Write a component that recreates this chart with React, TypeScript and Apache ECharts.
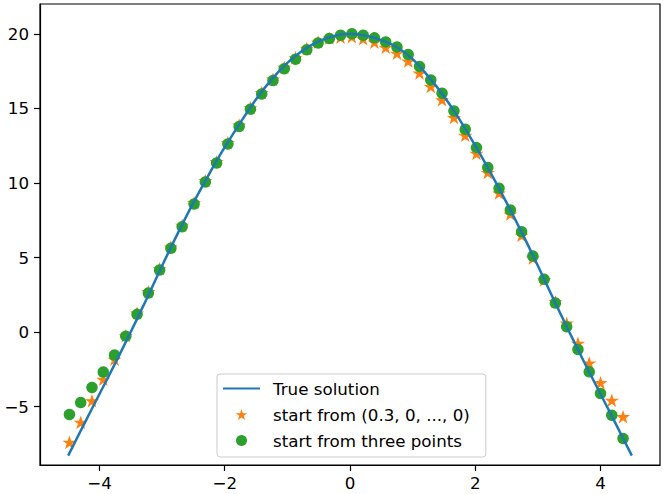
import React, { useEffect, useRef } from "react";
import * as echarts from "echarts";

const seriesNames = [
  "True solution",
  "start from (0.3, 0, ..., 0)",
  "start from three points",
];

const trueX = [
  -4.5, -4.25, -4.0, -3.75, -3.5, -3.25, -3.0, -2.75, -2.5, -2.25, -2.0, -1.75,
  -1.5, -1.25, -1.0, -0.75, -0.5, -0.25, 0, 0.25, 0.5, 0.75, 1.0, 1.25, 1.5,
  1.75, 2.0, 2.25, 2.5, 2.75, 3.0, 3.25, 3.5, 3.75, 4.0, 4.25, 4.5,
];
const trueY = [
  -8.28, -6.2, -4.15, -2.1, 0.02, 2.2, 4.45, 6.62, 8.68, 10.6, 12.4, 14.05,
  15.62, 16.95, 18.05, 18.9, 19.5, 19.85, 20.0, 19.88, 19.58, 19.1, 18.3,
  17.15, 15.82, 14.25, 12.5, 10.65, 8.68, 6.62, 4.45, 2.2, 0.02, -2.1, -4.15,
  -6.2, -8.28,
];

const pointX = [
  -4.48, -4.3, -4.12, -3.94, -3.76, -3.58, -3.4, -3.22, -3.04, -2.86, -2.68,
  -2.49, -2.31, -2.13, -1.95, -1.77, -1.59, -1.41, -1.23, -1.05, -0.87, -0.69,
  -0.51, -0.33, -0.15, 0.03, 0.21, 0.39, 0.57, 0.75, 0.93, 1.11, 1.29, 1.47,
  1.66, 1.84, 2.02, 2.2, 2.38, 2.56, 2.74, 2.92, 3.1, 3.28, 3.46, 3.64, 3.82,
  4.0, 4.18, 4.36,
];
const starY = [
  -7.4, -6.06, -4.61, -3.17, -1.83, -0.25, 1.27, 2.7, 4.24, 5.7, 7.15, 8.67,
  10.15, 11.42, 12.7, 13.87, 15.03, 16.05, 16.95, 17.74, 18.38, 19.01, 19.44,
  19.7, 19.76, 19.8, 19.66, 19.43, 19.08, 18.69, 18.16, 17.36, 16.46, 15.57,
  14.38, 13.18, 11.97, 10.69, 9.32, 7.91, 6.48, 4.95, 3.49, 2.03, 0.59, -0.76,
  -2.08, -3.4, -4.58, -5.68,
];
const circleY = [
  -5.52, -4.72, -3.71, -2.68, -1.54, -0.27, 1.19, 2.62, 4.16, 5.62, 7.07, 8.59,
  10.07, 11.34, 12.62, 13.79, 14.95, 15.97, 16.87, 17.66, 18.3, 18.93, 19.38,
  19.68, 19.91, 20.0, 19.91, 19.73, 19.46, 19.11, 18.61, 17.81, 16.91, 16.02,
  14.83, 13.6, 12.37, 11.04, 9.64, 8.19, 6.73, 5.1, 3.54, 1.95, 0.36, -1.16,
  -2.66, -4.11, -5.57, -7.13,
];

const xTicks = [-4, -2, 0, 2, 4];
const yTicks = [-5, 0, 5, 10, 15, 20];

const STAR =
  "path://M100,0 L122.45,69.1 L195.11,69.1 L136.33,111.8 L158.78,180.9 L100,138.2 L41.22,180.9 L63.67,111.8 L4.89,69.1 L77.55,69.1 Z";
const LINE_ICON = "path://M0,0 L40,0 L40,2.4 L0,2.4 Z";

const FONT = "DejaVu Sans";
const FS = 16.7;
const fmt = (v: number) => String(v).replace("-", "\u2212");

export default function App() {
  const ref = useRef<HTMLDivElement>(null);
  useEffect(() => {
    if (!ref.current) return;
    const chart = echarts.init(ref.current, null, { renderer: "svg" });
    const axisCommon = {
      type: "value" as const,
      splitLine: { show: false },
      axisLine: { show: true, onZero: false, lineStyle: { color: "#000", width: 1.2 } },
      axisTick: { show: true, length: 6, lineStyle: { color: "#000", width: 1.2 } },
      axisLabel: {
        color: "#000",
        fontSize: FS,
        fontFamily: FONT,
        formatter: fmt,
      },
    };
    chart.setOption({
      animation: false,
      backgroundColor: "#fff",
      grid: {
        left: 40,
        right: 5,
        top: 4,
        bottom: 29,
        show: true,
        borderColor: "#000",
        borderWidth: 1.2,
        containLabel: false,
      },
      xAxis: {
        ...axisCommon,
        min: -4.95,
        max: 4.95,
        axisTick: { ...axisCommon.axisTick, customValues: xTicks },
        axisLabel: { ...axisCommon.axisLabel, customValues: xTicks, margin: 9 },
      },
      yAxis: {
        ...axisCommon,
        min: -8.91,
        max: 22.0,
        axisTick: { ...axisCommon.axisTick, customValues: yTicks },
        axisLabel: { ...axisCommon.axisLabel, customValues: yTicks, margin: 11 },
      },
      legend: {
        show: true,
        orient: "vertical",
        left: 217,
        top: 374,
        padding: [5, 16, 7, 6],
        itemGap: 7,
        itemWidth: 37,
        itemHeight: 11,
        symbolKeepAspect: true,
        selectedMode: false,
        backgroundColor: "rgba(255,255,255,0.8)",
        borderColor: "#cccccc",
        borderWidth: 1,
        borderRadius: 3,
        textStyle: {
          fontSize: FS,
          fontFamily: FONT,
          color: "#000",
          lineHeight: 19,
          padding: [0, 0, 0, 8],
        },
        data: [
          { name: seriesNames[0], icon: LINE_ICON, itemStyle: { borderWidth: 0 } },
          { name: seriesNames[1], icon: STAR, itemStyle: { borderWidth: 0 } },
          { name: seriesNames[2], icon: "circle", itemStyle: { borderWidth: 0 } },
        ],
      },
      series: [
        {
          name: seriesNames[0],
          type: "line",
          data: trueX.map((x, i) => [x, trueY[i]]),
          showSymbol: false,
          symbol: "none",
          smooth: 0.3,
          color: "#1f77b4",
          lineStyle: { color: "#1f77b4", width: 2.5 },
          itemStyle: { color: "#1f77b4" },
        },
        {
          name: seriesNames[1],
          type: "scatter",
          data: pointX.map((x, i) => [x, starY[i]]),
          symbol: STAR,
          symbolSize: [11, 10.5],
          itemStyle: {
            color: "#ff7f0e",
            opacity: 1,
            borderColor: "#ff7f0e",
            borderWidth: 1,
          },
        },
        {
          name: seriesNames[2],
          type: "scatter",
          data: pointX.map((x, i) => [x, circleY[i]]),
          symbol: "circle",
          symbolSize: 11.5,
          itemStyle: { color: "#2ca02c", opacity: 1 },
        },
      ],
    });
    return () => chart.dispose();
  }, []);
  return (
    <div
      ref={ref}
      style={{ position: "fixed", left: 0, top: 0, width: 665, height: 494 }}
    />
  );
}
